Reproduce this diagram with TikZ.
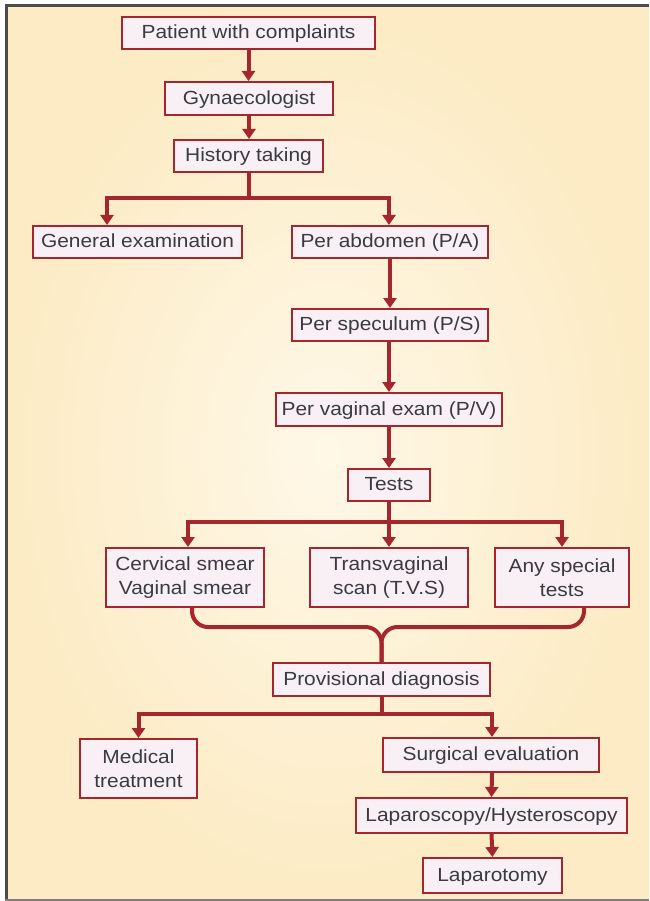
\documentclass[tikz,border=0pt]{standalone}
\usepackage{fontspec}
\setmainfont{Liberation Sans}[FakeStretch=1.1]
\usepackage{xcolor}
\usetikzlibrary{arrows.meta}
\definecolor{boxred}{RGB}{165,38,44}
\definecolor{boxfill}{RGB}{248,240,244}
\definecolor{textgrey}{RGB}{58,58,66}
\definecolor{creamout}{RGB}{252,235,196}
\definecolor{creamin}{RGB}{255,248,232}
\definecolor{framegrey}{RGB}{78,76,72}
\tikzset{
  box/.style={draw=boxred, line width=2pt, fill=boxfill, text=textgrey,
    inner sep=0pt, minimum height=32pt, align=center,
    text height=14pt, text depth=2.5pt,
    font=\fontsize{19}{24}\selectfont},
  tallbox/.style={box, minimum height=59pt, text height=, text depth=},
  flow/.style={draw=boxred, line width=4pt,
    -{Triangle[length=10pt,width=13pt]}},
  link/.style={draw=boxred, line width=4pt},
}
\begin{document}
\begin{tikzpicture}[x=1pt,y=-1pt]
  \useasboundingbox (0,0) rectangle (649,901);
  \fill[white] (0,0) rectangle (649,901);
  \shade[inner color=creamin, outer color=creamout] (5,5) rectangle (649,899);
  \draw[framegrey, line width=3pt] (6.5,899) -- (6.5,6) -- (649,6);
  \draw[gray, line width=2pt] (5,899.5) -- (649,899.5);

  \path (248.5,33)
    node (pat) [box, minimum width=253pt] {Patient with complaints} ++(0.5,65.5)
    node (gyn) [box, minimum width=168pt, minimum height=33pt] {Gynaecologist} ++(-0.5,57.5)
    node (hist) [box, minimum width=149pt] {History taking};
  \path (137.5,242)
    node (gen) [box, minimum width=209pt] {General examination} ++(252.5,0)
    node (pa) [box, minimum width=196pt] {Per abdomen (P/A)} ++(0,83)
    node (ps) [box, minimum width=196pt] {Per speculum (P/S)} ++(-1,84.5)
    node (pv) [box, minimum width=226pt, minimum height=33pt] {Per vaginal exam (P/V)} ++(0,75.5)
    node (tests) [box, minimum width=82pt] {Tests};
  \path (185,577.5)
    node (cerv) [tallbox, minimum width=158pt] {Cervical smear\\Vaginal smear} ++(204,0)
    node (tvs) [tallbox, minimum width=158pt] {Transvaginal\\scan (T.V.S)} ++(173,0)
    node (any) [tallbox, minimum width=134pt] {Any special\\tests};
  \path (381.5,679.5)
    node (prov) [box, minimum width=217pt, minimum height=33pt] {Provisional diagnosis};
  \path (138.5,768.5)
    node (med) [tallbox, minimum width=117pt] {Medical\\treatment};
  \path (491,755)
    node (surg) [box, minimum width=216pt, minimum height=34pt] {Surgical evaluation} ++(0.5,60.5)
    node (lap) [box, minimum width=271pt, minimum height=35pt] {Laparoscopy/Hysteroscopy} ++(1,60)
    node (lapt) [box, minimum width=139pt, minimum height=35pt] {Laparotomy};

  \draw[flow] (pat.south) -- (pat.south |- gyn.north);
  \draw[flow] (gyn.south) -- (gyn.south |- hist.north);
  \path (node cs:name=hist,anchor=south) +(0,25) coordinate (hsplit);
  \draw[link] (hist.south) -- (hsplit);
  \draw[flow] (hsplit) -| ([xshift=-30.5pt]gen.north);
  \draw[flow] (hsplit) -| ([xshift=-1pt]pa.north);

  \draw[flow] (pa.south) -- (ps.north);
  \draw[flow] ([xshift=-1pt]ps.south) -- (pv.north);
  \draw[flow] (pv.south) -- (tests.north);
  \path (node cs:name=tests,anchor=south) +(0,20) coordinate (tsplit);
  \draw[link] (tests.south) -- (tsplit);
  \draw[flow] (tsplit) -| ([xshift=3pt]cerv.north);
  \draw[flow] (tsplit) -- (tvs.north);
  \draw[flow] (tsplit) -| (any.north);

  \path (node cs:name=prov,anchor=north) +(0,-35) coordinate (bmid);
  \path (node cs:name=cerv,anchor=south) +(7,0) coordinate (bleft);
  \path (node cs:name=any,anchor=south) +(22,0) coordinate (bright);
  \draw[link, rounded corners=16pt] (bleft) |- (bmid) -- (prov.north);
  \draw[link, rounded corners=16pt] (bright) |- (bmid) -- (prov.north);

  \path (node cs:name=prov,anchor=south) +(0,17) coordinate (psplit);
  \draw[link] (prov.south) -- (psplit);
  \draw[flow] (psplit) -| (med.north);
  \draw[flow] (psplit) -| ([xshift=1pt]surg.north);
  \draw[flow] ([xshift=1pt]surg.south) -- (lap.north);
  \draw[flow] (lap.south) -- (lapt.north);
\end{tikzpicture}
\end{document}
